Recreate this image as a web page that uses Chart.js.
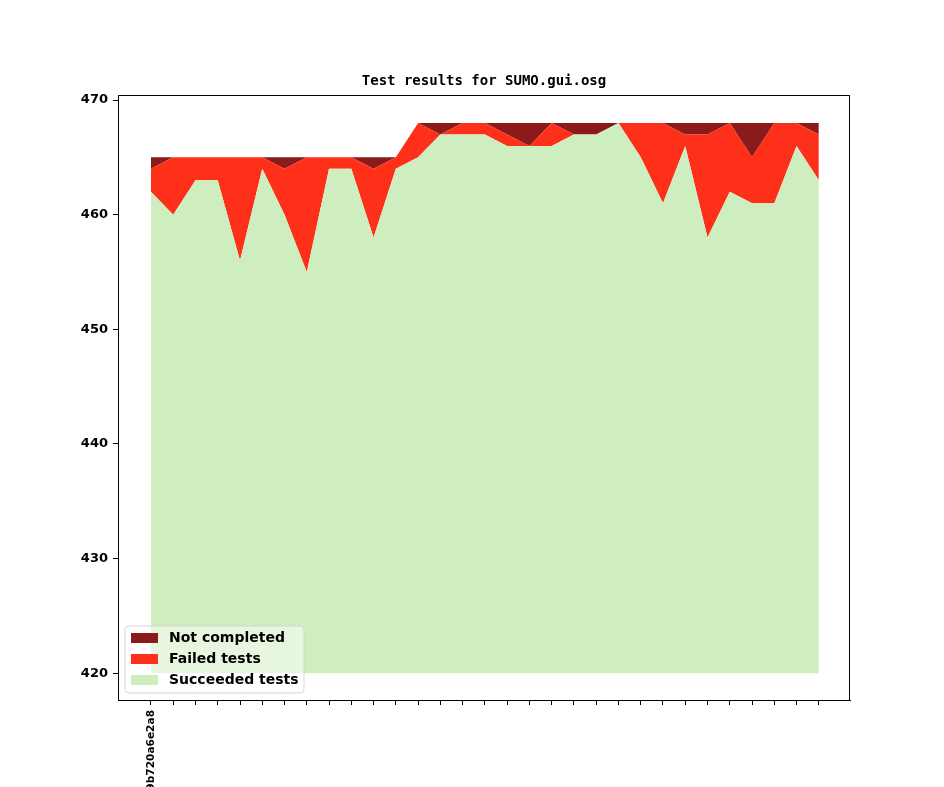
<!DOCTYPE html>
<html>
<head>
<meta charset="utf-8">
<title>Test results for SUMO.gui.osg</title>
<script src="https://cdn.jsdelivr.net/npm/chart.js@4.4.1/dist/chart.umd.min.js"></script>
<style>
    html, body { margin: 0; padding: 0; background: #fff; }
    #wrap { width: 944px; height: 787px; position: relative; }
</style>
</head>
<body>
<div id="wrap"><canvas id="resultsChart"></canvas></div>
<script>
// one entry per build, only the first commit label is shown in the source chart
const tickLabels = ['9b720a6e2a8', '', '', '', '', '', '', '', '', '', '',
    '', '', '', '', '', '', '', '', '', '',
    '', '', '', '', '', '', '', '', '', ''];

const succeeded = [462, 460, 463, 463, 456, 464, 460, 455, 464, 464, 458,
    464, 465, 467, 467, 467, 466, 466, 466, 467, 467,
    468, 465, 461, 466, 458, 462, 461, 461, 466, 463];

const failed = [2, 5, 2, 2, 9, 1, 4, 10, 1, 1, 6,
    1, 3, 0, 1, 1, 1, 0, 2, 0, 0,
    0, 3, 7, 1, 9, 6, 4, 7, 2, 4];

const notCompleted = [1, 0, 0, 0, 0, 0, 1, 0, 0, 0, 1,
    0, 0, 1, 0, 0, 1, 2, 0, 1, 1,
    0, 0, 0, 1, 1, 0, 3, 0, 0, 1];

const yTicks = [420, 430, 440, 450, 460, 470];

const colors = {
    notCompleted: 'rgb(139, 26, 26)',
    failed: 'rgb(255, 48, 26)',
    succeeded: 'rgb(207, 238, 191)'
};

document.addEventListener('DOMContentLoaded', function () {
    const toPoints = arr => arr.map((v, i) => ({ x: i, y: v }));

    function areaDataset(label, values, color, fill) {
        return {
            label: label,
            data: toPoints(values),
            backgroundColor: color,
            borderColor: color,
            borderWidth: 0,
            pointRadius: 0,
            pointHoverRadius: 0,
            tension: 0,
            fill: fill
        };
    }

    // frame, title and legend drawn the way the original plot has them
    const decorations = {
        id: 'decorations',
        afterDraw(chart) {
            const { ctx, chartArea } = chart;
            ctx.save();

            ctx.strokeStyle = '#000';
            ctx.lineWidth = 1;
            ctx.strokeRect(chartArea.left + 0.5, chartArea.top + 0.5,
                chartArea.right - chartArea.left - 1, chartArea.bottom - chartArea.top);

            ctx.fillStyle = '#000';
            ctx.font = 'bold 14px "DejaVu Sans Mono", monospace';
            ctx.textAlign = 'center';
            ctx.textBaseline = 'middle';
            ctx.fillText('Test results for SUMO.gui.osg', (chartArea.left + chartArea.right) / 2, 81);

            const items = [
                ['Not completed', colors.notCompleted],
                ['Failed tests', colors.failed],
                ['Succeeded tests', colors.succeeded]
            ];
            const bx = 125, by = 626, bw = 179, bh = 67, r = 4;
            ctx.beginPath();
            ctx.moveTo(bx + r, by);
            ctx.arcTo(bx + bw, by, bx + bw, by + bh, r);
            ctx.arcTo(bx + bw, by + bh, bx, by + bh, r);
            ctx.arcTo(bx, by + bh, bx, by, r);
            ctx.arcTo(bx, by, bx + bw, by, r);
            ctx.closePath();
            ctx.fillStyle = 'rgba(255, 255, 255, 0.5)';
            ctx.fill();
            ctx.strokeStyle = '#d6d6d6';
            ctx.stroke();

            ctx.font = 'bold 14px "DejaVu Sans", sans-serif';
            ctx.textAlign = 'left';
            items.forEach(([text, color], i) => {
                const cy = 638 + i * 21;
                ctx.fillStyle = color;
                ctx.fillRect(131, cy - 5, 27, 10);
                ctx.fillStyle = '#000';
                ctx.fillText(text, 169, cy);
            });

            ctx.restore();
        }
    };

    const ctx = document.getElementById('resultsChart').getContext('2d');

    new Chart(ctx, {
        type: 'line',
        data: {
            datasets: [
                areaDataset('Succeeded tests', succeeded, colors.succeeded, { value: 420 }),
                areaDataset('Failed tests', failed, colors.failed, '-1'),
                areaDataset('Not completed', notCompleted, colors.notCompleted, '-1')
            ]
        },
        options: {
            responsive: true,
            maintainAspectRatio: false,
            animation: false,
            events: [],
            layout: {
                padding: { top: 95, right: 94, left: 0, bottom: 0 }
            },
            plugins: {
                legend: { display: false },
                title: { display: false },
                tooltip: { enabled: false }
            },
            scales: {
                x: {
                    type: 'linear',
                    min: -1.48,
                    max: 31.4,
                    border: { display: true, color: '#000' },
                    grid: {
                        display: true,
                        drawOnChartArea: false,
                        drawTicks: true,
                        tickLength: 5,
                        color: '#000'
                    },
                    afterBuildTicks(scale) {
                        scale.ticks = tickLabels.map((t, i) => ({ value: i }));
                    },
                    afterFit(scale) {
                        scale.height = 87;
                    },
                    ticks: {
                        autoSkip: false,
                        minRotation: 90,
                        maxRotation: 90,
                        padding: 5,
                        color: '#000',
                        font: { family: 'DejaVu Sans', size: 10.6, weight: 'bold' },
                        callback: function (value) {
                            return tickLabels[value] || '';
                        }
                    }
                },
                y: {
                    stacked: true,
                    min: 417.67,
                    max: 470.44,
                    border: { display: true, color: '#000' },
                    grid: {
                        display: true,
                        drawOnChartArea: false,
                        drawTicks: true,
                        tickLength: 5,
                        color: '#000'
                    },
                    afterBuildTicks(scale) {
                        scale.ticks = yTicks.map(v => ({ value: v }));
                    },
                    afterFit(scale) {
                        scale.width = 118;
                    },
                    ticks: {
                        padding: 5,
                        color: '#000',
                        font: { family: 'DejaVu Sans', size: 13, weight: 'bold' }
                    }
                }
            }
        },
        plugins: [decorations]
    });
});
</script>
</body>
</html>
